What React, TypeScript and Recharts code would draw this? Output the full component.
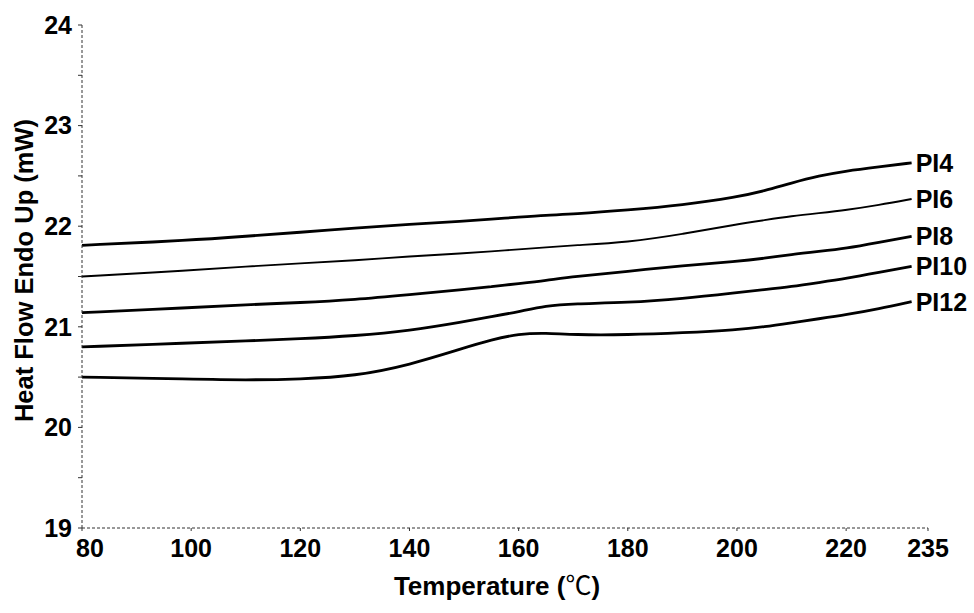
import React from 'react';
import { LineChart, Line, XAxis, YAxis } from 'recharts';

const temps = [80, 100, 110, 120, 130, 140, 150, 155, 160, 165, 170, 180, 190, 200, 205, 210, 215, 220, 226, 232];
const pi4 = [21.81, 21.86, 21.9, 21.94, 21.98, 22.02, 22.05, 22.07, 22.09, 22.11, 22.12, 22.16, 22.21, 22.29, 22.35, 22.43, 22.5, 22.55, 22.59, 22.63];
const pi6 = [21.5, 21.56, 21.6, 21.63, 21.66, 21.7, 21.73, 21.75, 21.77, 21.79, 21.81, 21.84, 21.92, 22.02, 22.06, 22.1, 22.13, 22.16, 22.21, 22.27];
const pi8 = [21.14, 21.19, 21.22, 21.24, 21.27, 21.32, 21.37, 21.4, 21.43, 21.46, 21.5, 21.55, 21.61, 21.65, 21.68, 21.72, 21.75, 21.78, 21.84, 21.9];
const pi10 = [20.8, 20.84, 20.86, 20.88, 20.91, 20.96, 21.05, 21.1, 21.15, 21.21, 21.23, 21.24, 21.28, 21.34, 21.37, 21.4, 21.44, 21.48, 21.54, 21.6];
const pi12 = [20.5, 20.48, 20.47, 20.48, 20.51, 20.62, 20.79, 20.87, 20.93, 20.94, 20.92, 20.92, 20.94, 20.97, 21.0, 21.04, 21.08, 21.12, 21.18, 21.25];

const seriesNames = ['PI4', 'PI6', 'PI8', 'PI10', 'PI12'];
const seriesValues = [pi4, pi6, pi8, pi10, pi12];
const seriesWidths = [2.8, 1.9, 2.8, 2.8, 2.8];

const xTicks = [80, 100, 120, 140, 160, 180, 200, 220, 235];
const yTicks = [19, 19.5, 20, 20.5, 21, 21.5, 22, 22.5, 23, 23.5, 24];

const xTitle = 'Temperature (';
const xUnit = '℃';
const yTitle = 'Heat Flow Endo Up (mW)';

const data = temps.map((t, i) => {
  const row: Record<string, number> = { t };
  seriesNames.forEach((n, k) => {
    row[n] = seriesValues[k][i];
  });
  return row;
});

const FONT = '"Liberation Sans", Arial, sans-serif';

const makeEndLabel = (name: string) => (p: any) => {
  if (p.index !== temps.length - 1) return null;
  return (
    <text
      key={name}
      x={p.x + 4}
      y={p.y}
      dominantBaseline="central"
      fontFamily={FONT}
      fontWeight="bold"
      fontSize={25}
      fill="#000"
    >
      {name}
    </text>
  );
};

const XTick = (p: any) => {
  const v = p.payload.value;
  const dx = v === xTicks[0] ? 8 : 0;
  return (
    <text
      x={p.x + dx}
      y={p.y + 4}
      textAnchor="middle"
      dominantBaseline="hanging"
      fontFamily={FONT}
      fontWeight="bold"
      fontSize={25}
      fill="#000"
    >
      {v}
    </text>
  );
};

export default function App() {
  return (
    <div style={{ position: 'absolute', left: 0, top: 0, background: '#fff' }}>
      <LineChart width={974} height={613} data={data} margin={{ top: 25, right: 46, bottom: 10, left: 2 }}>
        <XAxis
          dataKey="t"
          type="number"
          domain={[80, 235]}
          ticks={xTicks}
          interval={0}
          height={75}
          axisLine={{ stroke: '#333', strokeDasharray: '3 2' }}
          tickLine={{ stroke: '#333' }}
          tickSize={3}
          tickMargin={4}
          tick={<XTick />}
          label={{
            content: (p: any) => {
              const vb = p.viewBox;
              return (
                <text
                  x={vb.x + vb.width / 2 - 8}
                  y={vb.y + vb.height - 8}
                  textAnchor="middle"
                  fontFamily={FONT}
                  fontWeight="bold"
                  fontSize={26}
                  fill="#000"
                >
                  {xTitle}
                  <tspan fontFamily='"Noto Sans CJK SC", sans-serif' fontWeight="normal">{xUnit}</tspan>
                  )
                </text>
              );
            },
          }}
        />
        <YAxis
          type="number"
          domain={[19, 24]}
          ticks={yTicks}
          interval={0}
          width={80}
          axisLine={{ stroke: '#333', strokeDasharray: '3 2' }}
          tickLine={{ stroke: '#333' }}
          tickSize={4}
          tickMargin={6}
          tickFormatter={(v: number) => (Number.isInteger(v) ? String(v) : '')}
          tick={{ fill: '#000', fontFamily: FONT, fontWeight: 'bold', fontSize: 25 }}
          label={{
            content: (p: any) => {
              const vb = p.viewBox;
              const cx = 24;
              const cy = vb.y + vb.height / 2 - 6;
              return (
                <text
                  x={cx}
                  y={cy}
                  transform={`rotate(-90 ${cx} ${cy})`}
                  textAnchor="middle"
                  dominantBaseline="central"
                  fontFamily={FONT}
                  fontWeight="bold"
                  fontSize={25.5}
                  fill="#000"
                >
                  {yTitle}
                </text>
              );
            },
          }}
        />
        {seriesNames.map((n, k) => (
          <Line
            key={n}
            dataKey={n}
            type="basis"
            stroke="#000"
            strokeWidth={seriesWidths[k]}
            dot={false}
            activeDot={false}
            isAnimationActive={false}
            label={makeEndLabel(n)}
          />
        ))}
      </LineChart>
    </div>
  );
}
